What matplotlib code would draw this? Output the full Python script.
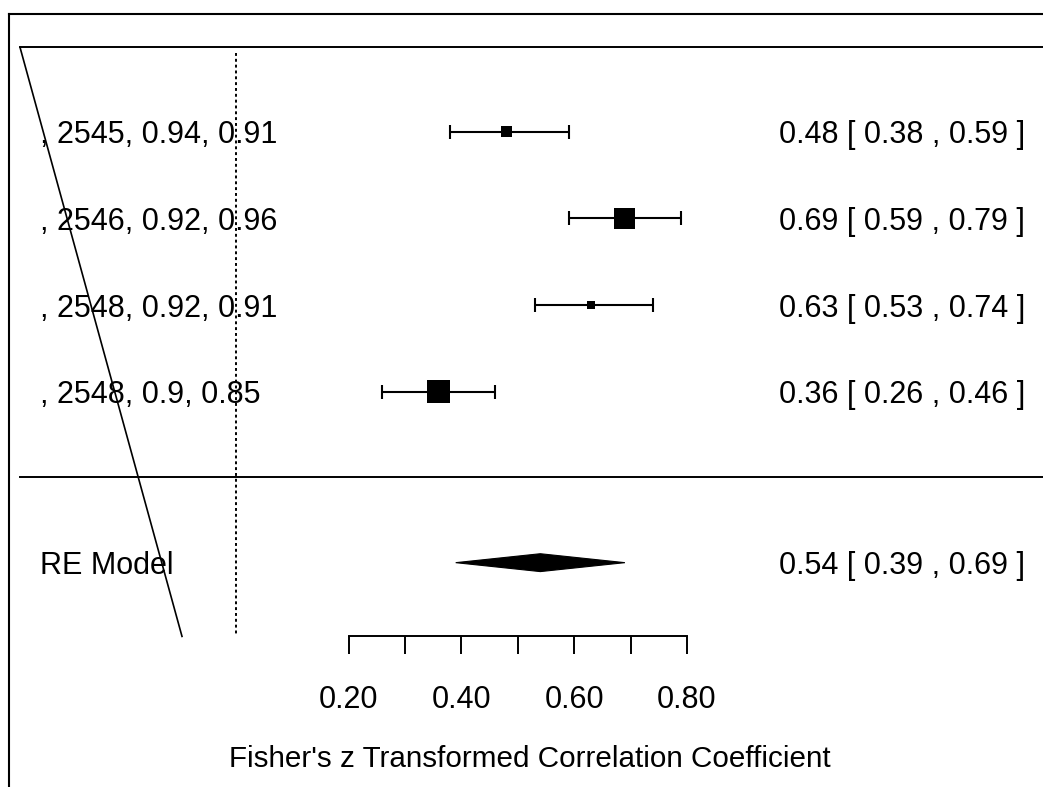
import matplotlib.pyplot as plt
from matplotlib.lines import Line2D
from matplotlib.patches import Polygon
import numpy as np

plt.rcParams['font.family'] = ['Liberation Sans', 'DejaVu Sans']

# study rows (top to bottom)
study_labels = [", 2545, 0.94, 0.91", ", 2546, 0.92, 0.96", ", 2548, 0.92, 0.91", ", 2548, 0.9, 0.85"]
est = np.array([0.48, 0.69, 0.63, 0.36])
ci_lo = np.array([0.38, 0.59, 0.53, 0.26])
ci_hi = np.array([0.59, 0.79, 0.74, 0.46])
rows = np.array([4, 3, 2, 1])

# random effects summary
re_label = "RE Model"
re_est, re_lo, re_hi = 0.54, 0.39, 0.69

xticks = [0.2, 0.3, 0.4, 0.5, 0.6, 0.7, 0.8]
xticklabels = ["0.20", "", "0.40", "", "0.60", "", "0.80"]
xlabel = "Fisher's z Transformed Correlation Coefficient"

# layout (rows / axes fractions)
box_sizes = [55, 229, 28, 274]     # marker area in pt^2
re_row = -0.97
top_row = 4.97
sep_row = 0.02
axis_row = -1.82
ref_top = 4.91
diag_x = [0.0192, 0.1745]          # axes fraction
diag_y = [top_row, axis_row]
fs = 22

fig = plt.figure(figsize=(10.43, 7.87), dpi=100)
ax = fig.add_axes([0, 0, 1, 1])
ax.set_xlim(-0.4179, 1.4312)
ax.set_ylim(-3.556, 5.516)

for s in ['left', 'top', 'right']:
	ax.spines[s].set_visible(False)
ax.set_yticks([])

# x axis drawn at the bottom of the plotting region
ax.spines['bottom'].set_position(('data', axis_row))
ax.spines['bottom'].set_bounds(xticks[0], xticks[-1])
ax.spines['bottom'].set_linewidth(1.4)
ax.set_xticks(xticks)
ax.set_xticklabels(xticklabels)
ax.tick_params(axis='x', direction='out', length=13, width=1.4, pad=22, labelsize=fs)

ax.set_xlabel(xlabel, fontsize=21.3, va='center')
ax.xaxis.set_label_coords(530 / 1043, 1 - 759 / 787)

# horizontal rules and reference lines
ytr = ax.get_yaxis_transform()
ax.plot([0.0192, 1], [top_row, top_row], color='black', lw=1.4, transform=ytr)
ax.plot([0.0192, 1], [sep_row, sep_row], color='black', lw=1.4, transform=ytr)
ax.plot(diag_x, diag_y, color='black', lw=1.2, transform=ytr)
ax.plot([0, 0], [ref_top, axis_row], color='black', lw=1.4, linestyle=(0, (1.5, 1.5)))

# study estimates
ax.errorbar(est, rows, xerr=[est - ci_lo, ci_hi - est], fmt='none', ecolor='black',
	elinewidth=1.5, capsize=4.7, capthick=1.5)
ax.scatter(est, rows, s=box_sizes, marker='s', color='black', zorder=3, linewidths=0)

# summary diamond
h = 0.103
ax.add_patch(Polygon([[re_lo, re_row], [re_est, re_row + h], [re_hi, re_row], [re_est, re_row - h]],
	closed=True, facecolor='black', edgecolor='black', lw=0.8))

for lab, r, e, lo, hi in zip(study_labels, rows, est, ci_lo, ci_hi):
	ax.text(0.0384, r, lab, fontsize=fs, ha='left', va='center_baseline', transform=ytr)
	ax.text(0.9827, r, f"{e:.2f} [ {lo:.2f} , {hi:.2f} ]", fontsize=fs, ha='right', va='center_baseline', transform=ytr)
ax.text(0.0384, re_row, re_label, fontsize=fs, ha='left', va='center_baseline', transform=ytr)
ax.text(0.9827, re_row, f"{re_est:.2f} [ {re_lo:.2f} , {re_hi:.2f} ]", fontsize=fs, ha='right',
	va='center_baseline', transform=ytr)

# outer frame (left and top edges only are visible)
fig.add_artist(Line2D([9 / 1043, 9 / 1043], [0, 1 - 14 / 787], color='black', lw=1.5))
fig.add_artist(Line2D([9 / 1043, 1], [1 - 14 / 787, 1 - 14 / 787], color='black', lw=1.5))

fig.savefig("out.png", dpi=100)
